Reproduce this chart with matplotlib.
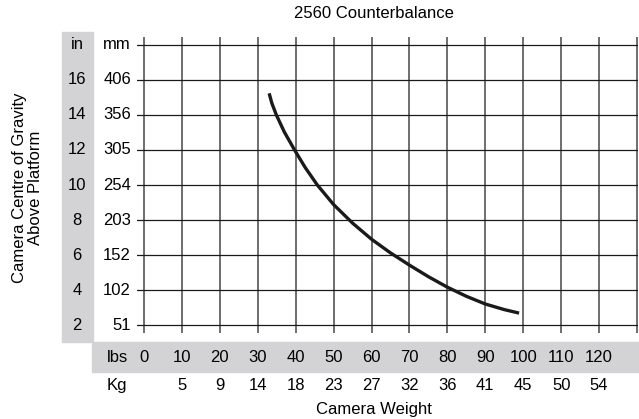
"""2560 Counterbalance chart: camera centre of gravity vs camera weight."""

import matplotlib

matplotlib.use("Agg")
import matplotlib.pyplot as plt
from matplotlib.patches import Rectangle
from matplotlib.transforms import blended_transform_factory

plt.rcParams["font.family"] = ["Liberation Sans", "DejaVu Sans"]

# curve (lbs, inches)
weight_lbs = [33.0, 33.7, 34.9, 37.0, 39.7, 42.5, 45.7, 50, 55, 60, 65, 70, 75, 80, 85, 90, 95, 98.9]
cog_in = [15.24, 14.68, 14.0, 13.03, 12.0, 11.0, 10.0, 8.88, 7.82, 6.9, 6.12, 5.42, 4.76,
          4.16, 3.64, 3.2, 2.88, 2.68]

# axis scales
in_ticks = [2, 4, 6, 8, 10, 12, 14, 16]
mm_labels = ["51", "102", "152", "203", "254", "305", "356", "406"]
lbs_ticks = [0, 10, 20, 30, 40, 50, 60, 70, 80, 90, 100, 110, 120]
kg_labels = ["", "5", "9", "14", "18", "23", "27", "32", "36", "41", "45", "50", "54"]
grid_x = lbs_ticks + [130]
grid_y = in_ticks + [18]

W, H = 639, 419
GREY = "#d3d3d5"
FS = 12

fig = plt.figure(figsize=(W / 100, H / 100), dpi=100)


def fx(px):
    return px / W


def fy(py):
    return 1 - py / H


ax = fig.add_axes([fx(137), fy(333), fx(638) - fx(137), fy(37) - fy(333)])
ax.set_xlim(-1.85, 130.26)
ax.set_ylim(1.543, 18.457)
for s in ax.spines.values():
    s.set_visible(False)
ax.set_xticks(grid_x)
ax.set_yticks(grid_y)
ax.tick_params(length=0, labelleft=False, labelbottom=False)
ax.grid(axis="x", color="#555555", lw=1.2)
ax.grid(axis="y", color="#1a1a1a", lw=0.9)
ax.set_axisbelow(True)

ax.plot(weight_lbs, cog_in, color="#1a1a1a", lw=2.4, solid_capstyle="butt",
        solid_joinstyle="round")

# grey label bands
fig.patches.append(Rectangle((fx(62), fy(342)), fx(93) - fx(62), fy(32) - fy(342),
                             transform=fig.transFigure, color=GREY, zorder=0))
fig.patches.append(Rectangle((fx(92), fy(372)), fx(639) - fx(92), fy(342) - fy(372),
                             transform=fig.transFigure, color=GREY, zorder=0))

# y labels (inches and mm)
ty = blended_transform_factory(fig.transFigure, ax.transData)
for v, mm in zip(in_ticks, mm_labels):
    fig.text(fx(77), v, str(v), transform=ty, ha="center", va="center", fontsize=FS)
    fig.text(fx(131), v, mm, transform=ty, ha="right", va="center", fontsize=FS)
fig.text(fx(77), 18, "in", transform=ty, ha="center", va="center", fontsize=FS)
fig.text(fx(131), 18, "mm", transform=ty, ha="right", va="center", fontsize=FS)

# x labels (lbs and kg)
tx = blended_transform_factory(ax.transData, fig.transFigure)
for v, kg in zip(lbs_ticks, kg_labels):
    fig.text(v, fy(357), str(v), transform=tx, ha="center", va="center", fontsize=FS)
    fig.text(v, fy(385), kg, transform=tx, ha="center", va="center", fontsize=FS)
fig.text(fx(117), fy(357), "lbs", ha="center", va="center", fontsize=FS)
fig.text(fx(117), fy(385), "Kg", ha="center", va="center", fontsize=FS)

fig.text(fx(374), fy(409), "Camera Weight", ha="center", va="center", fontsize=FS)
fig.text(fx(374), fy(13), "2560 Counterbalance", ha="center", va="center", fontsize=FS)
fig.text(fx(27.5), fy(188), "Camera Centre of Gravity\nAbove Platform", rotation=90,
         ha="center", va="center", fontsize=FS, linespacing=1.15)

fig.savefig("out.png", dpi=100)
